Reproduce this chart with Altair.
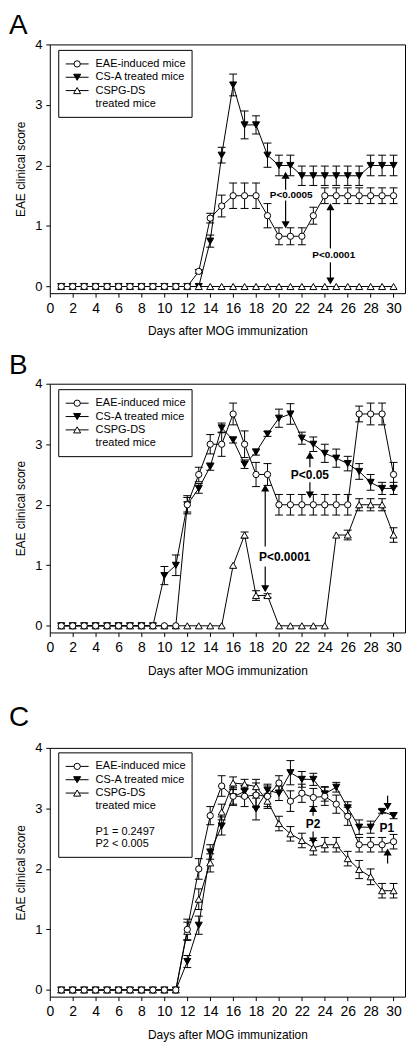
import altair as alt
import pandas as pd

FONT = "Liberation Sans"
days = list(range(1, 31))
x_ticks = list(range(0, 31, 2))
y_ticks = [0, 1, 2, 3, 4]
series_names = ["EAE-induced mice", "CS-A treated mice", "CSPG-DS treated mice"]
legend_lines = ["EAE-induced mice", "CS-A treated mice", "CSPG-DS", "treated mice"]
legend_lines_c = ["P1 = 0.2497", "P2 < 0.005"]

# ---------------- Panel A ----------------
a_eae = [0] * 12 + [0.25, 1.13, 1.33, 1.5, 1.5, 1.5, 1.17, 0.83, 0.83, 0.83, 1.17,
                    1.5, 1.5, 1.5, 1.5, 1.5, 1.5, 1.5]
a_eae_err = [0] * 12 + [0.03, 0.08, 0.18, 0.21, 0.21, 0.21, 0.2, 0.14, 0.14, 0.14, 0.14,
                        0.13, 0.13, 0.13, 0.13, 0.13, 0.13, 0.13]
a_csa = [0] * 13 + [0.75, 2.17, 3.33, 2.67, 2.67, 2.17, 2.0, 2.0, 1.83, 1.83, 1.83, 1.83,
                    1.83, 1.83, 2.0, 2.0, 2.0]
a_csa_err = [0] * 13 + [0.1, 0.13, 0.18, 0.23, 0.15, 0.2, 0.17, 0.17, 0.16, 0.16, 0.16,
                        0.16, 0.16, 0.16, 0.17, 0.17, 0.17]
a_dspg = [0] * 30
a_dspg_err = [0] * 30
a_note_x = [21.07, 24.78]
a_note_y = [1.52, 0.52]
a_note_t = ["P<0.0005", "P<0.0001"]
a_arrow_x = [20.58, 20.58, 24.49, 24.49]
a_arrow_from = [1.60, 1.42, 0.63, 0.40]
a_arrow_to = [1.83, 1.03, 1.31, 0.10]

# ---------------- Panel B ----------------
b_eae = [0] * 11 + [2.0, 2.5, 3.0, 3.0, 3.5, 3.0, 2.5, 2.5, 2.0, 2.0, 2.0, 2.0, 2.0, 2.0,
                    2.0, 3.5, 3.5, 3.5, 2.5]
b_eae_err = [0] * 11 + [0.12, 0.12, 0.16, 0.2, 0.18, 0.22, 0.2, 0.18, 0.17, 0.17, 0.17,
                        0.17, 0.17, 0.17, 0.17, 0.13, 0.18, 0.18, 0.2]
b_csa = [0] * 9 + [0.83, 1.0, 2.0, 2.27, 2.63, 3.27, 3.07, 2.67, 2.87, 3.17, 3.43, 3.5, 3.1,
                   3.0, 2.85, 2.77, 2.68, 2.55, 2.37, 2.27, 2.27]
b_csa_err = [0] * 9 + [0.15, 0.17, 0.15, 0.08, 0.06, 0.08, 0.05, 0.07, 0.05, 0.04, 0.15, 0.17,
                       0.1, 0.12, 0.15, 0.15, 0.12, 0.13, 0.13, 0.1, 0.1]
b_dspg = [0] * 15 + [1.0, 1.5, 0.5, 0.5, 0, 0, 0, 0, 0, 1.5, 1.5, 2.0, 2.0, 2.0, 1.5]
b_dspg_err = [0] * 15 + [0, 0.05, 0.08, 0.03, 0, 0, 0, 0, 0, 0, 0.08, 0.1, 0.1, 0.1, 0.12]
b_note_x = [22.7, 20.5]
b_note_y = [2.49, 1.14]
b_note_t = ["P<0.05", "P<0.0001"]
b_arrow_x = [22.7, 22.7, 18.8, 18.8]
b_arrow_from = [2.62, 2.37, 1.31, 0.98]
b_arrow_to = [2.81, 2.17, 2.27, 0.62]

# ---------------- Panel C ----------------
c_eae = [0] * 11 + [1.0, 2.0, 2.88, 3.37, 3.2, 3.2, 3.22, 3.2, 3.42, 3.12, 3.25, 3.18, 3.2,
                    3.07, 2.87, 2.4, 2.4, 2.4, 2.45]
c_eae_err = [0] * 11 + [0.17, 0.17, 0.15, 0.17, 0.15, 0.17, 0.2, 0.17, 0.12, 0.17, 0.15,
                        0.15, 0.15, 0.15, 0.15, 0.12, 0.12, 0.12, 0.12]
c_csa = [0] * 11 + [0.47, 1.07, 2.28, 2.71, 3.19, 3.28, 2.99, 3.3, 3.25, 3.59, 3.48, 3.48,
                    3.24, 3.35, 3.01, 2.69, 2.69, 2.95, 2.88]
c_csa_err = [0] * 11 + [0.1, 0.15, 0.12, 0.15, 0.12, 0.1, 0.18, 0.1, 0.12, 0.2, 0.13, 0.1,
                        0.12, 0.08, 0.1, 0.12, 0.1, 0.03, 0.05]
c_dspg = [0] * 11 + [0.97, 1.5, 2.1, 2.94, 3.42, 3.4, 3.36, 3.12, 2.75, 2.58, 2.47, 2.35,
                     2.4, 2.4, 2.17, 1.99, 1.87, 1.64, 1.64]
c_dspg_err = [0] * 11 + [0.15, 0.17, 0.15, 0.13, 0.1, 0.08, 0.12, 0.12, 0.12, 0.12, 0.12,
                         0.12, 0.12, 0.12, 0.12, 0.15, 0.13, 0.12, 0.12]
c_note_x = [22.98, 29.42]
c_note_y = [2.74, 2.67]
c_note_t = ["P2", "P1"]
c_arrow_x = [22.98, 22.98, 29.48, 29.48]
c_arrow_from = [2.88, 2.62, 3.21, 2.09]
c_arrow_to = [2.99, 2.47, 3.04, 2.27]

STYLES = {
    "EAE-induced mice": ("circle", "white", 40),
    "CS-A treated mice": ("triangle-down", "black", 50),
    "CSPG-DS treated mice": ("triangle-up", "white", 50),
}

xs = alt.Scale(domain=[0, 31], nice=False, zero=False)
ys = alt.Scale(domain=[-0.11, 4], nice=False, zero=False)
x_axis = alt.Axis(values=x_ticks, title="Days after MOG immunization")
y_axis = alt.Axis(values=y_ticks, title="EAE clinical score")


def X(f):
    return alt.X(f, type="quantitative", scale=xs, axis=x_axis)


def Y(f):
    return alt.Y(f, type="quantitative", scale=ys, axis=y_axis)


def panel(letter, letter_y, top_y, vals, note_x, note_y, note_t, note_size,
          ax, afrom, ato, legend_top, extra_lines):
    frames = []
    for name, (v, e) in zip(series_names, vals):
        frames.append(pd.DataFrame({"day": days, "score": v, "err": e, "series": name}))
    df = pd.concat(frames, ignore_index=True)
    df["lo"] = df["score"] - df["err"]
    df["hi"] = df["score"] + df["err"]

    base = alt.Chart(df)
    layers = []
    layers.append(base.mark_line(color="black", strokeWidth=1).encode(
        x=X("day"), y=Y("score"), detail="series:N"))
    eb = base.transform_filter("datum.err > 0")
    layers.append(eb.mark_rule(color="black", strokeWidth=1).encode(
        x=X("day"), y=Y("lo"), y2="hi:Q"))
    for f in ["lo", "hi"]:
        layers.append(eb.mark_rule(color="black", strokeWidth=1, xOffset=-4, x2Offset=4).encode(
            x=X("day"), x2="day:Q", y=Y(f)))
    for name in ["CS-A treated mice", "CSPG-DS treated mice", "EAE-induced mice"]:
        shape, fill, size = STYLES[name]
        layers.append(base.transform_filter(alt.datum.series == name).mark_point(
            shape=shape, fill=fill, stroke="black", strokeWidth=1, filled=True,
            opacity=1, size=size).encode(x=X("day"), y=Y("score")))

    # arrows
    adf = pd.DataFrame({"x": ax, "y1": afrom, "y2": ato})
    adf["up"] = adf["y2"] > adf["y1"]
    layers.append(alt.Chart(adf).mark_rule(color="black", strokeWidth=1.2).encode(
        x=X("x"), y=Y("y1"), y2="y2:Q"))
    for up, shp in [(True, "triangle-up"), (False, "triangle-down")]:
        layers.append(alt.Chart(adf).transform_filter(alt.datum.up == up).mark_point(
            shape=shp, fill="black", stroke="black", filled=True, opacity=1, size=22).encode(
            x=X("x"), y=Y("y2")))
    ndf = pd.DataFrame({"x": note_x, "y": note_y, "t": note_t})
    layers.append(alt.Chart(ndf).mark_text(font=FONT, fontWeight="bold", fontSize=note_size,
                                           color="black", baseline="middle").encode(
        x=X("x"), y=Y("y"), text="t:N"))

    # legend (drawn by hand)
    one = pd.DataFrame({"k": [0]})
    lines = legend_lines + extra_lines
    row_h = 13.4
    rows = [legend_top + 13.6 + i * row_h for i in range(4)]
    if extra_lines:
        rows += [rows[-1] + 25.3, rows[-1] + 37.7]
    box_bottom = rows[-1] + 13.5
    layers.append(alt.Chart(one).mark_rect(fill="white", stroke="black", strokeWidth=1).encode(
        x=alt.value(9), x2=alt.value(143), y=alt.value(legend_top), y2=alt.value(box_bottom)))
    for i, name in enumerate(series_names):
        shape, fill, size = STYLES[name]
        layers.append(alt.Chart(one).mark_rule(color="black", strokeWidth=1).encode(
            x=alt.value(16), x2=alt.value(39), y=alt.value(rows[i])))
        layers.append(alt.Chart(one).mark_point(shape=shape, fill=fill, stroke="black",
                                                strokeWidth=1, filled=True, opacity=1,
                                                size=size).encode(
            x=alt.value(27.5), y=alt.value(rows[i])))
    for t, ry in zip(lines, rows):
        layers.append(alt.Chart(pd.DataFrame({"t": [t]})).mark_text(
            font=FONT, fontSize=11, color="black", align="left", baseline="middle").encode(
            x=alt.value(46), y=alt.value(ry), text="t:N"))

    # panel letter and top spacer
    layers.append(alt.Chart(pd.DataFrame({"t": [letter]})).mark_text(
        font=FONT, fontSize=28, color="black", align="left", baseline="alphabetic").encode(
        x=alt.value(-41), y=alt.value(letter_y), text="t:N"))
    layers.append(alt.Chart(one).mark_rule(opacity=0, strokeWidth=1).encode(
        x=alt.value(0), x2=alt.value(5), y=alt.value(top_y)))

    return alt.layer(*layers).properties(width=357, height=250)


pA = panel("A", -10.7, -33, [(a_eae, a_eae_err), (a_csa, a_csa_err), (a_dspg, a_dspg_err)],
           a_note_x, a_note_y, a_note_t, 10, a_arrow_x, a_arrow_from, a_arrow_to, 6, [])
pB = panel("B", -9.7, -33, [(b_eae, b_eae_err), (b_csa, b_csa_err), (b_dspg, b_dspg_err)],
           b_note_x, b_note_y, b_note_t, 12, b_arrow_x, b_arrow_from, b_arrow_to, 6, [])
pC = panel("C", -21.7, -58, [(c_eae, c_eae_err), (c_csa, c_csa_err), (c_dspg, c_dspg_err)],
           c_note_x, c_note_y, c_note_t, 12, c_arrow_x, c_arrow_from, c_arrow_to, 5, legend_lines_c)

chart = alt.vconcat(pA, pB, pC, spacing=12).properties(
    padding={"left": 0, "top": 0, "right": 0, "bottom": 0}
).configure_view(stroke="black", strokeWidth=1).configure_axis(
    domain=False, grid=False, ticks=True, tickColor="black", tickSize=4, tickWidth=1,
    labelColor="black", titleColor="black", labelFont=FONT, titleFont=FONT,
    titleFontWeight="normal"
).configure_axisX(labelFontSize=14, labelPadding=4, titleFontSize=12, titlePadding=11,
                  labelFlush=False, labelOverlap=False
).configure_axisY(labelFontSize=13, labelPadding=4, titleFontSize=12, titlePadding=7)

chart.save("out.html", embed_options={"renderer": "svg", "actions": False})
